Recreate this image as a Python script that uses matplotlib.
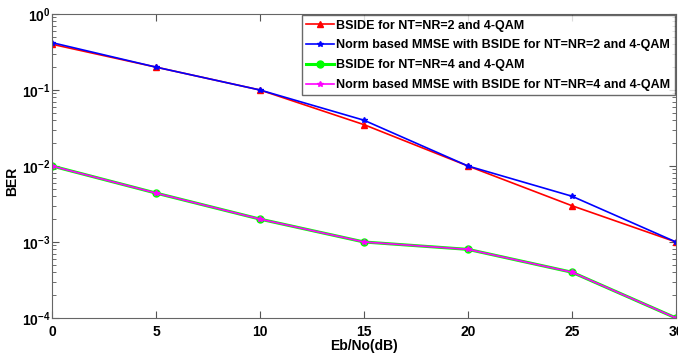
import matplotlib
matplotlib.use("Agg")
import matplotlib.pyplot as plt
from matplotlib.ticker import LogLocator, LogFormatterSciNotation, MultipleLocator

plt.rcParams['font.family'] = ['Liberation Sans', 'DejaVu Sans']
plt.rcParams['font.weight'] = 'bold'
plt.rcParams['mathtext.fontset'] = 'custom'
plt.rcParams['mathtext.rm'] = 'Liberation Sans:bold'
plt.rcParams['mathtext.bf'] = 'Liberation Sans:bold'
plt.rcParams['mathtext.default'] = 'bf'

# Eb/No values (dB)
snr_db = [0, 5, 10, 15, 20, 25, 30]

# BER curves
ber_bside_2 = [0.40, 0.20, 0.10, 0.035, 0.010, 0.0030, 0.0010]
ber_mmse_2 = [0.42, 0.20, 0.10, 0.040, 0.010, 0.0040, 0.0010]
ber_bside_4 = [0.010, 0.0044, 0.0020, 0.0010, 0.00080, 0.00040, 0.00010]
ber_mmse_4 = [0.010, 0.0044, 0.0020, 0.0010, 0.00080, 0.00040, 0.00010]

labels = [
    "BSIDE for NT=NR=2 and 4-QAM",
    "Norm based MMSE with BSIDE for NT=NR=2 and 4-QAM",
    "BSIDE for NT=NR=4 and 4-QAM",
    "Norm based MMSE with BSIDE for NT=NR=4 and 4-QAM",
]


def plot_ber():
    fig = plt.figure(figsize=(6.78, 3.58), dpi=100)
    ax = fig.add_axes([52 / 678, 40 / 358, 624 / 678, 304 / 358])

    ax.semilogy(snr_db, ber_bside_2, color="red", marker="^", markersize=4,
                linewidth=1.2, label=labels[0])
    ax.semilogy(snr_db, ber_mmse_2, color="blue", marker="*", markersize=4,
                linewidth=1.2, label=labels[1])
    ax.semilogy(snr_db, ber_bside_4, color="#00ff00", marker="o", markersize=5,
                linewidth=2.2, label=labels[2])
    ax.semilogy(snr_db, ber_mmse_4, color="magenta", marker="*", markersize=4,
                linewidth=1.2, label=labels[3])

    ax.set_xlim(0, 30)
    ax.set_ylim(1e-4, 1)
    ax.xaxis.set_major_locator(MultipleLocator(5))
    ax.yaxis.set_major_locator(LogLocator(base=10, numticks=10))
    ax.yaxis.set_minor_locator(LogLocator(base=10, subs=range(2, 10), numticks=20))
    ax.yaxis.set_major_formatter(LogFormatterSciNotation())

    ax.tick_params(which="both", direction="in", top=True, right=True,
                   colors="#555555", labelcolor="black", labelsize=10)
    ax.tick_params(axis="y", pad=1)
    ax.tick_params(axis="x", pad=5)
    ax.tick_params(which="major", length=5)
    ax.tick_params(which="minor", length=3)
    for sp in ax.spines.values():
        sp.set_color("#666666")

    ax.set_xlabel("Eb/No(dB)", fontsize=10, fontweight="bold", labelpad=0)
    ax.set_ylabel("BER", fontsize=10, fontweight="bold")
    ax.yaxis.set_label_coords(-0.052, 0.45)

    leg = ax.legend(loc="upper right", fontsize=9, frameon=True, fancybox=False,
                    edgecolor="#444444", borderaxespad=0.1, handlelength=2.2,
                    handletextpad=0.2, labelspacing=0.62, borderpad=0.35)
    leg.get_frame().set_linewidth(1.0)

    fig.savefig("out.png", dpi=100)


if __name__ == "__main__":
    plot_ber()
